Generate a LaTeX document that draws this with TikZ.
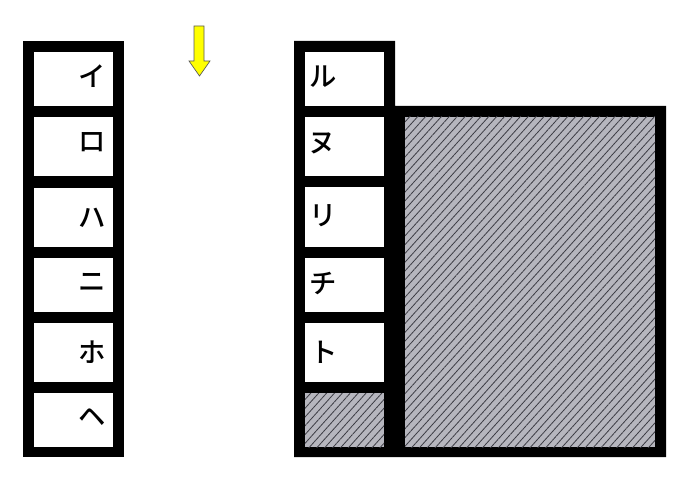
\documentclass[tikz,border=0pt]{standalone}
\usepackage{fontspec}
\newfontfamily\jp{Noto Sans CJK JP Medium}
\usetikzlibrary{patterns.meta}
\definecolor{hatchgray}{RGB}{182,182,190}
\definecolor{hatchline}{RGB}{60,60,68}
\definecolor{arrowyellow}{RGB}{255,255,0}
\tikzset{
  cell/.style={fill=white},
  frame/.style={fill=black},
  hatched/.style={fill=hatchgray, postaction={pattern={Lines[angle=48,distance=4.4pt,line width=0.6pt]}, pattern color=hatchline}},
  label/.style={font=\jp\fontsize{20.5}{20.5}\selectfont, inner sep=0pt, anchor=center},
  downarrow/.style={fill=arrowyellow, draw=black!65, line width=0.5pt, line join=miter}
}
\begin{document}
\begin{tikzpicture}[x=0.75pt,y=-0.75pt]
\useasboundingbox (0,0) rectangle (688,484);
\fill[white] (0,0) rectangle (688,484);
% left column
\fill[frame] (23,41) rectangle (124,457);
\fill[cell] (34,52) rectangle (113,106);
\fill[cell] (34,117) rectangle (113,176);
\fill[cell] (34,188) rectangle (113,247);
\fill[cell] (34,258) rectangle (113,312);
\fill[cell] (34,323) rectangle (113,382);
\fill[cell] (34,393) rectangle (113,447);
\node[label] (i)  at (92,76)  {イ};
\node[label] (ro) at (92,142) {ロ};
\node[label] (ha) at (92,218) {ハ};
\node[label] (ni) at (92,282) {ニ};
\node[label] (ho) at (92,352) {ホ};
\node[label] (he) at (92,417) {ヘ};
% arrow
\draw[downarrow] (194,26) -- (204,26) -- (204,61) -- (210,61) -- (199.5,76) -- (189,61) -- (194,61) -- cycle;
% right column and block
\fill[frame] (294,41) -- (395,41) -- (395,106) -- (666,106) -- (666,457) -- (294,457) -- cycle;
\fill[cell] (305,52) rectangle (384,106);
\fill[cell] (305,117) rectangle (384,176);
\fill[cell] (305,187) rectangle (384,247);
\fill[cell] (305,258) rectangle (384,312);
\fill[cell] (305,323) rectangle (384,382);
\path[hatched] (305,393) rectangle (384,447);
\path[hatched] (405,117) rectangle (655,447);
\node[label] (ru) at (323,77)  {ル};
\node[label] (nu) at (322,143) {ヌ};
\node[label] (ri) at (323,216) {リ};
\node[label] (ti) at (323,283) {チ};
\node[label] (to) at (324,352) {ト};
\end{tikzpicture}
\end{document}
